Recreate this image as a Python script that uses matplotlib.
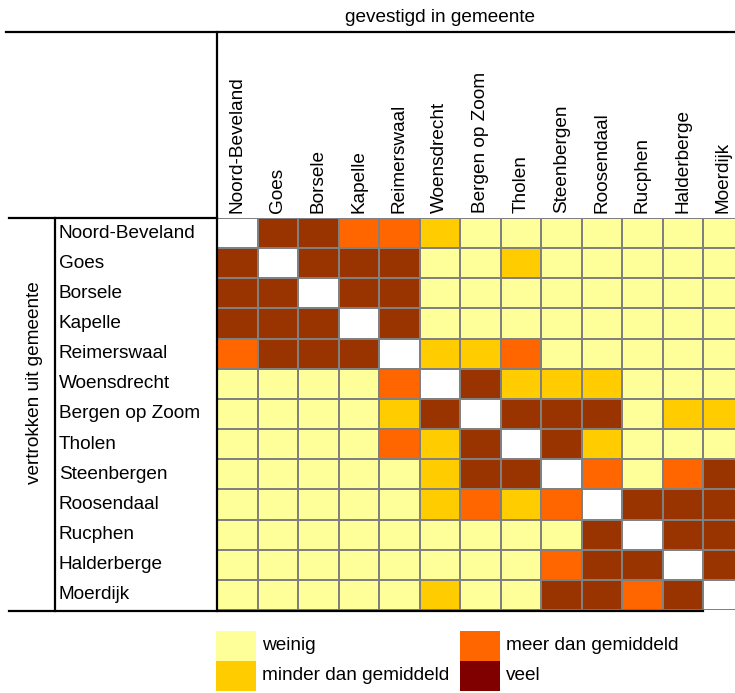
import matplotlib
matplotlib.use("Agg")
import matplotlib.pyplot as plt
from matplotlib.colors import ListedColormap, BoundaryNorm
from matplotlib.patches import Rectangle
import numpy as np

# gemeenten (rows = vertrokken uit, columns = gevestigd in)
gemeenten = ["Noord-Beveland", "Goes", "Borsele", "Kapelle", "Reimerswaal",
             "Woensdrecht", "Bergen op Zoom", "Tholen", "Steenbergen",
             "Roosendaal", "Rucphen", "Halderberge", "Moerdijk"]

# 0 = zelfde gemeente, 1 = weinig, 2 = minder dan gemiddeld,
# 3 = meer dan gemiddeld, 4 = veel
klasse = [
    [0, 4, 4, 3, 3, 2, 1, 1, 1, 1, 1, 1, 1],
    [4, 0, 4, 4, 4, 1, 1, 2, 1, 1, 1, 1, 1],
    [4, 4, 0, 4, 4, 1, 1, 1, 1, 1, 1, 1, 1],
    [4, 4, 4, 0, 4, 1, 1, 1, 1, 1, 1, 1, 1],
    [3, 4, 4, 4, 0, 2, 2, 3, 1, 1, 1, 1, 1],
    [1, 1, 1, 1, 3, 0, 4, 2, 2, 2, 1, 1, 1],
    [1, 1, 1, 1, 2, 4, 0, 4, 4, 4, 1, 2, 2],
    [1, 1, 1, 1, 3, 2, 4, 0, 4, 2, 1, 1, 1],
    [1, 1, 1, 1, 1, 2, 4, 4, 0, 3, 1, 3, 4],
    [1, 1, 1, 1, 1, 2, 3, 2, 3, 0, 4, 4, 4],
    [1, 1, 1, 1, 1, 1, 1, 1, 1, 4, 0, 4, 4],
    [1, 1, 1, 1, 1, 1, 1, 1, 3, 4, 4, 0, 4],
    [1, 1, 1, 1, 1, 2, 1, 1, 4, 4, 3, 4, 0],
]

legend_labels = ["weinig", "minder dan gemiddeld", "meer dan gemiddeld", "veel"]
cell_colors = ["#FFFFFF", "#FFFF99", "#FFCC00", "#FF6600", "#993300"]
legend_colors = ["#FFFF99", "#FFCC00", "#FF6600", "#800000"]

plt.rcParams['font.family'] = ['Liberation Sans', 'DejaVu Sans']
FS = 13.7

W, H = 735, 693
fig = plt.figure(figsize=(W / 100, H / 100), dpi=100)

# grid geometry in pixels
n = len(gemeenten)
gx0, gy0 = 217, 218
cw, ch = 40.5, 30.15
gw, gh = n * cw, n * ch

# heatmap axes
ax = fig.add_axes([gx0 / W, 1 - (gy0 + gh) / H, gw / W, gh / H])
cmap = ListedColormap(cell_colors)
norm = BoundaryNorm(np.arange(-0.5, 5.5, 1), cmap.N)
ax.pcolormesh(np.array(klasse), cmap=cmap, norm=norm,
              edgecolors="#808080", linewidth=1.3)
ax.set_xlim(0, n)
ax.set_ylim(n, 0)
ax.axis("off")

# overlay axes in pixel coordinates for lines, labels and legend
cv = fig.add_axes([0, 0, 1, 1])
cv.set_xlim(0, W)
cv.set_ylim(H, 0)
cv.axis("off")
cv.set_zorder(2)
cv.patch.set_visible(False)

cv.text(440, 18, "gevestigd in gemeente", ha="center", va="center", fontsize=FS)
cv.plot([6, W], [32, 32], color="black", lw=1.6)
cv.plot([9, gx0], [gy0, gy0], color="black", lw=1.6)
cv.plot([gx0, gx0], [32, gy0 + gh + 1], color="black", lw=1.6)
cv.plot([55, 55], [gy0, gy0 + gh + 1], color="black", lw=1.6)
cv.plot([9, gx0 + (n - 1) * cw], [gy0 + gh + 1, gy0 + gh + 1], color="black", lw=1.6)

for i, name in enumerate(gemeenten):
    cv.text(59, gy0 + (i + 0.5) * ch, name, ha="left", va="center", fontsize=FS)
    cv.text(gx0 + (i + 0.5) * cw, 213, name, ha="center", va="bottom",
            rotation=90, fontsize=FS)

cv.text(35, 383, "vertrokken uit gemeente", ha="center", va="center",
        rotation=90, fontsize=FS)

# legend
leg_pos = [(216, 631), (216, 661), (460, 631), (460, 661)]
for (lx, ly), lab, col in zip(leg_pos, legend_labels, legend_colors):
    cv.add_patch(Rectangle((lx, ly), 40, 30, facecolor=col, edgecolor="none"))
    cv.text(lx + 46, ly + 15, lab, ha="left", va="center", fontsize=FS)

fig.savefig("out.png", dpi=100)
